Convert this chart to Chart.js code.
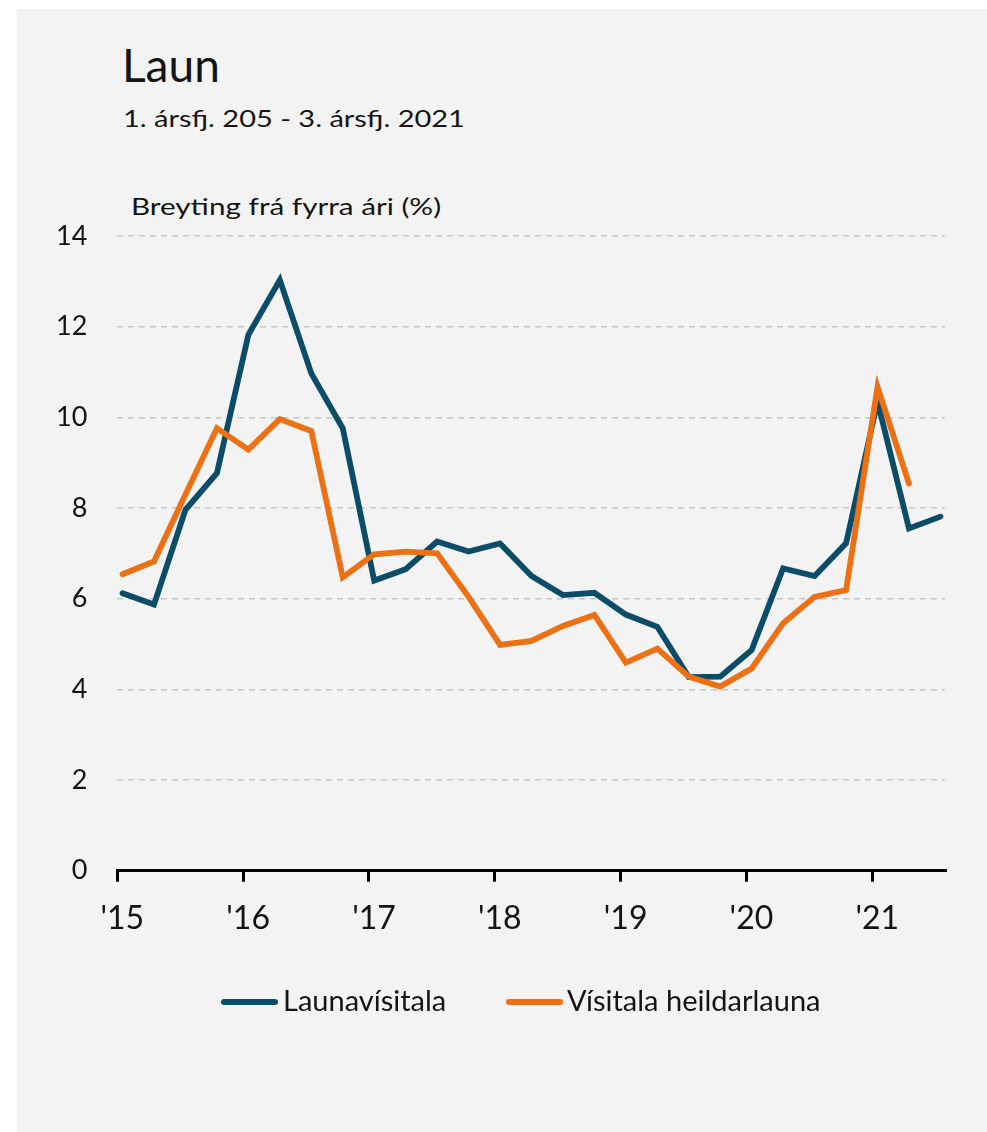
<!DOCTYPE html>
<html><head><meta charset="utf-8">
<script src="https://cdn.jsdelivr.net/npm/chart.js@4.4.0/dist/chart.umd.min.js"></script>
<style>
html,body{margin:0;padding:0;background:#fff;width:987px;height:1132px;overflow:hidden;font-family:Lato,'Open Sans',sans-serif;color:#141414}
#panel{position:absolute;left:17px;top:9px;width:970px;height:1123px;background:#f3f3f3}
.t{position:absolute;white-space:nowrap;line-height:1;transform-origin:0 0}
#c{position:absolute;left:0;top:0}
.sw{position:absolute;height:6px;border-radius:3px}
</style></head>
<body>
<div id="panel"></div>
<div class="t" style="left:122px;top:42px;font-size:46px">Laun</div>
<div class="t" style="left:123px;top:107px;font-size:23px;transform:scaleX(1.26)">1. ársfj. 205 - 3. ársfj. 2021</div>
<div class="t" style="left:131px;top:195px;font-size:23px;transform:scaleX(1.29)">Breyting frá fyrra ári (%)</div>
<canvas id="c" width="987" height="1132"></canvas>
<div id="legend"></div>
<script>
const quarters = ['2015Q1','2015Q2','2015Q3','2015Q4','2016Q1','2016Q2','2016Q3','2016Q4','2017Q1','2017Q2','2017Q3','2017Q4','2018Q1','2018Q2','2018Q3','2018Q4','2019Q1','2019Q2','2019Q3','2019Q4','2020Q1','2020Q2','2020Q3','2020Q4','2021Q1','2021Q2','2021Q3'];
const launavisitala = [6.12,5.87,7.96,8.77,11.82,13.03,10.97,9.76,6.40,6.65,7.26,7.04,7.22,6.50,6.08,6.13,5.65,5.38,4.27,4.28,4.87,6.67,6.50,7.22,10.35,7.55,7.81];
const heildarlaun = [6.54,6.82,8.30,9.76,9.29,9.96,9.70,6.47,6.98,7.04,7.00,6.04,4.98,5.07,5.40,5.64,4.59,4.90,4.28,4.06,4.46,5.46,6.04,6.19,10.67,8.54,null];
const seriesNames = ['Launavísitala','Vísitala heildarlauna'];
const yearTicks = [2015,2016,2017,2018,2019,2020,2021];
const yearLabels = ["'15","'16","'17","'18","'19","'20","'21"];
const yTicks = [0,2,4,6,8,10,12,14];

const colors = ['#0b4d68','#ee7014'];
function qx(q){ const y=+q.slice(0,4), n=+q.slice(5); return y+(n-1)/4+1/24; }
function pts(arr){ return quarters.map((q,i)=>({x:qx(q), y:arr[i]})); }

const W = 987, H = 1132;
new Chart(document.getElementById('c'), {
  type:'line',
  data:{datasets:[
    {label:seriesNames[0], data:pts(launavisitala), borderColor:colors[0], backgroundColor:colors[0], borderWidth:5.8, pointRadius:0, tension:0, borderCapStyle:'round', order:1, spanGaps:false},
    {label:seriesNames[1], data:pts(heildarlaun), borderColor:colors[1], backgroundColor:colors[1], borderWidth:5.8, pointRadius:0, tension:0, borderCapStyle:'round', order:0, spanGaps:false}
  ]},
  options:{
    responsive:false, animation:false, devicePixelRatio:1,
    layout:{padding:{left:0, right:42, top:236, bottom:0}},
    plugins:{legend:{display:false}, tooltip:{enabled:false}},
    scales:{
      x:{type:'linear', min:2015, max:2021.578,
        afterBuildTicks:s=>{ s.ticks = yearTicks.map(v=>({value:v})); },
        afterFit:s=>{ s.height = H - 870.7; },
        ticks:{callback:(v)=>yearLabels[yearTicks.indexOf(v)], font:{family:'Lato', size:32}, color:'#141414', padding:18, labelOffset:5, maxRotation:0, autoSkip:false},
        grid:{display:true, drawOnChartArea:false, drawTicks:true, tickLength:11, color:'#000', lineWidth:3},
        border:{display:true, color:'#000', width:3}
      },
      y:{min:0, max:14,
        afterBuildTicks:s=>{ s.ticks = yTicks.map(v=>({value:v})); },
        afterFit:s=>{ s.width = 117.3; },
        ticks:{font:{family:'Lato', size:27}, color:'#141414', padding:30},
        grid:{color:'#c6c6c6', lineWidth:1.5, drawTicks:false},
        border:{display:false, dash:[6,5]}
      }
    }
  }
});

const legendPos = [{sw:221, tx:283},{sw:506, tx:567}];
const lg = document.getElementById('legend');
seriesNames.forEach((name,i)=>{
  const s = document.createElement('div'); s.className='sw';
  s.style.left = legendPos[i].sw+'px'; s.style.top='999px'; s.style.width='57px'; s.style.background=colors[i];
  lg.appendChild(s);
  const t = document.createElement('div'); t.className='t';
  t.style.left = legendPos[i].tx+'px'; t.style.top='985px'; t.style.fontSize='29px'; t.textContent=name;
  lg.appendChild(t);
});
</script>
</body></html>
